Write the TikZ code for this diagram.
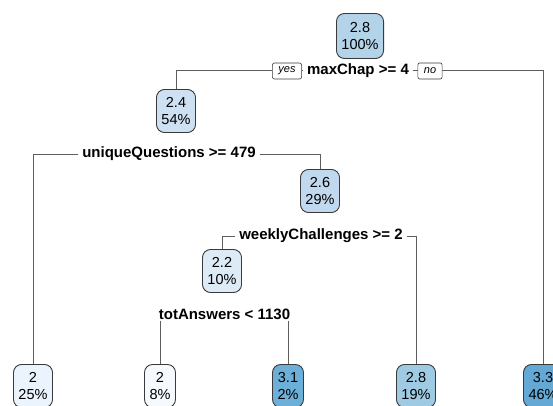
\documentclass[tikz,border=0pt]{standalone}
\usepackage{fontspec}
\setmainfont{Liberation Sans}
\usetikzlibrary{backgrounds}
\definecolor{nodeborder}{HTML}{3A3A3A}
\definecolor{linegray}{HTML}{5E5E5E}
\definecolor{cA}{HTML}{B3D3E9}
\definecolor{cB}{HTML}{CDE1F3}
\definecolor{cC}{HTML}{C0D9EE}
\definecolor{cD}{HTML}{DDEBF7}
\definecolor{cE}{HTML}{EBF3FC}
\definecolor{cF}{HTML}{F6FAFE}
\definecolor{cG}{HTML}{6CAFD8}
\definecolor{cH}{HTML}{9ECBE3}
\definecolor{cI}{HTML}{64A9D6}
\begin{document}
\begin{tikzpicture}[x=1pt,y=-1pt,
  treenode/.style={draw=nodeborder, line width=0.9pt, rounded corners=8pt, align=center,
    font=\fontsize{14.5}{16.5}\selectfont, inner xsep=5pt, inner ysep=0pt, minimum height=43pt},
  splitlabel/.style={font=\bfseries\fontsize{15}{16}\selectfont, inner xsep=4pt, inner ysep=1pt},
  yesno/.style={draw=nodeborder, line width=0.6pt, rounded corners=2pt, font=\itshape\fontsize{11}{12}\selectfont,
    inner xsep=6pt, inner ysep=0pt, minimum height=16pt, fill=white},
  link/.style={draw=linegray, line width=1pt}]
\useasboundingbox (0,0) rectangle (553,406);
\clip (0,0) rectangle (553,406);

\node[treenode, fill=cA, minimum height=45pt] (n1) at (360,36) {2.8\\100\%};
\node[yesno] (yes) at (287,71) {yes};
\node[splitlabel] (s1) at (358,71) {maxChap >= 4};
\node[yesno] (no) at (430,71) {no};

\node[treenode, fill=cB] (n24) at (176,111) {2.4\\54\%};
\node[splitlabel] (s2) at (169,154) {uniqueQuestions >= 479};
\node[treenode, fill=cC] (n26) at (320,191) {2.6\\29\%};
\node[splitlabel] (s3) at (321,236) {weeklyChallenges >= 2};
\node[treenode, fill=cD] (n22) at (222,271) {2.2\\10\%};
\node[splitlabel] (s4) at (224.5,314) {totAnswers < 1130};

\node[treenode, fill=cE] (n2a) at (33,386) {2\\25\%};
\node[treenode, fill=cF] (n2b) at (160,386) {2\\8\%};
\node[treenode, fill=cG] (n31) at (288,386) {3.1\\2\%};
\node[treenode, fill=cH] (n28b) at (416,386) {2.8\\19\%};
\node[treenode, fill=cI] (n33) at (543,386) {3.3\\46\%};

\begin{scope}[on background layer]
\draw[link] (n24.north) |- (yes.west);
\draw[link] (yes.east) -- (s1.west);
\draw[link] (s1.east) -- (no.west);
\draw[link] (no.east) -| (n33.north);
\draw[link] (n2a.north) |- (s2.west);
\draw[link] (s2.east) -| (n26.north);
\draw[link] (n22.north) |- (s3.west);
\draw[link] (s3.east) -| (n28b.north);
\draw[link] (s4.south -| n2b.north) -- (n2b.north);
\draw[link] (s4.south -| n31.north) -- (n31.north);
\end{scope}
\end{tikzpicture}
\end{document}
